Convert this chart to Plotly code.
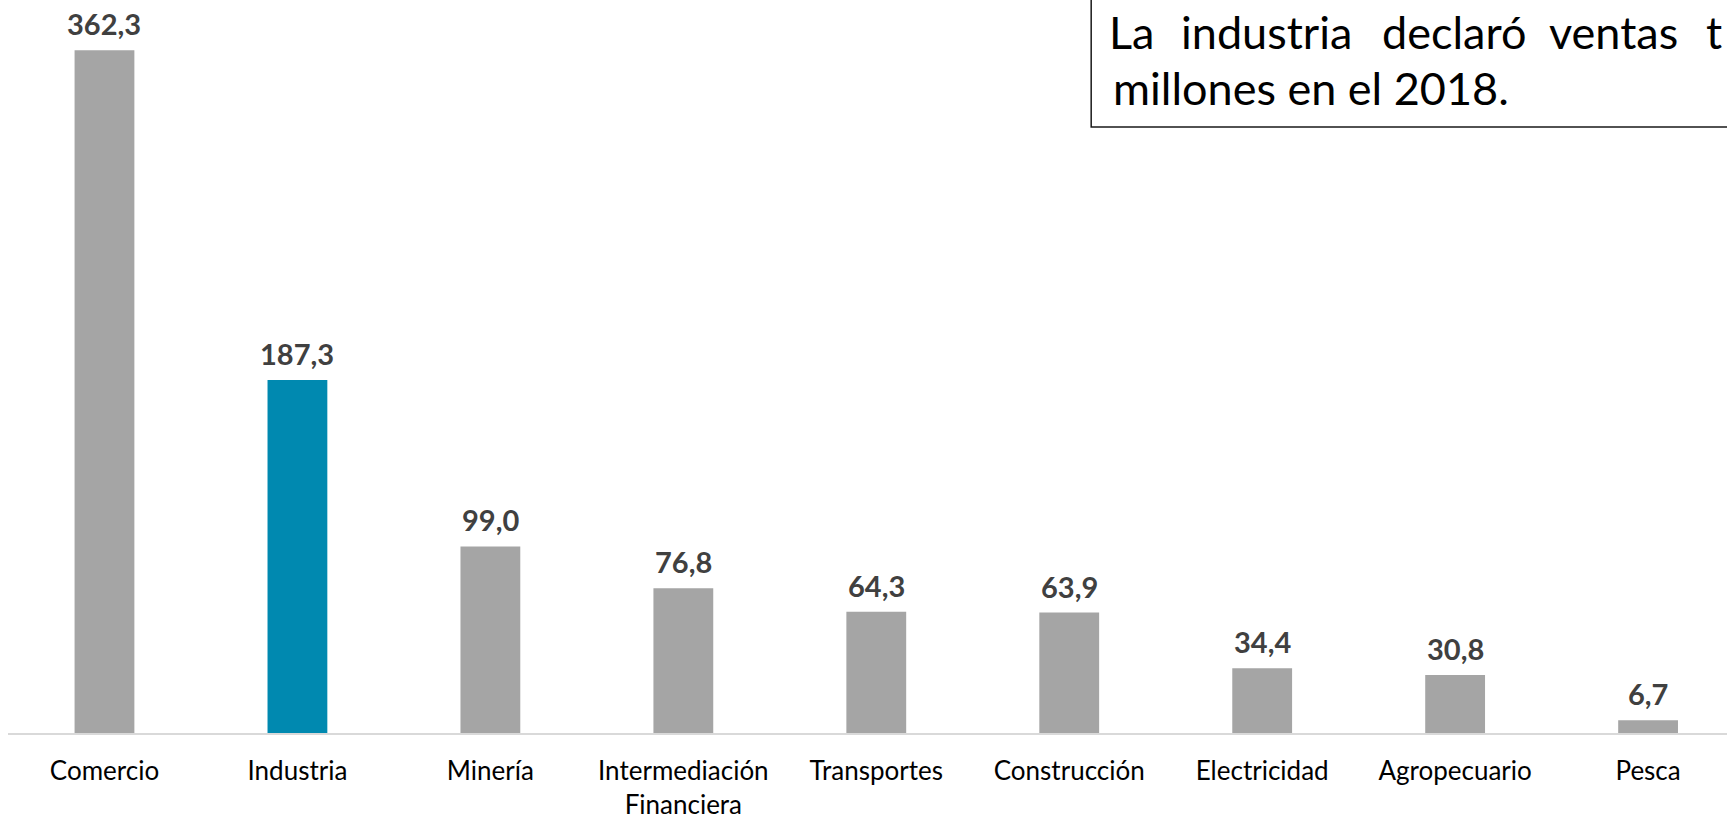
import plotly.graph_objects as go

categories = ["Comercio", "Industria", "Minería", "Intermediación<br>Financiera",
              "Transportes", "Construcción", "Electricidad", "Agropecuario", "Pesca"]
values = [362.3, 187.3, 99.0, 76.8, 64.3, 63.9, 34.4, 30.8, 6.7]
highlight = "Industria"

GRAY = "#a5a5a5"
BLUE = "#0089b0"
colors = [BLUE if c == highlight else GRAY for c in categories]

W, H = 1727, 821
ML, MR, MT, MB = 7.5, 0, 0, 88

def px(x):
    return (x - ML) / (W - ML - MR)

def py(y):
    return (H - MB - y) / (H - MB - MT)

fig = go.Figure()
fig.add_trace(go.Bar(
    x=list(range(len(categories))), y=values,
    marker=dict(color=colors, line=dict(width=0)),
    width=0.31, hoverinfo="skip",
))

annotations = []
for i, v in enumerate(values):
    annotations.append(dict(
        x=i, y=v, xref="x", yref="y", text=f"<b>{v:.1f}</b>".replace(".", ","),
        showarrow=False, yanchor="bottom", yshift=7,
        font=dict(family="Lato", size=29, color="#404040"),
    ))

# text box (justified first line, cut off at the right edge)
line1 = [("La", 1131), ("industria", 1266), ("declaró", 1454), ("ventas", 1613), ("t", 1714)]
for word, xpos in line1:
    annotations.append(dict(
        x=px(xpos), y=py(32), xref="paper", yref="paper", text=word,
        showarrow=False, xanchor="center", yanchor="middle",
        font=dict(family="Lato", size=45, color="#000000"),
    ))
annotations.append(dict(
    x=px(1111), y=py(88), xref="paper", yref="paper", text="millones en el 2018.",
    showarrow=False, xanchor="left", yanchor="middle",
    font=dict(family="Lato", size=45, color="#000000"),
))

fig.update_layout(
    width=W, height=H,
    margin=dict(l=ML, r=MR, t=MT, b=MB, pad=0),
    paper_bgcolor="white", plot_bgcolor="white",
    showlegend=False,
    annotations=annotations,
    shapes=[dict(type="rect", xref="paper", yref="paper",
                 x0=px(1091), x1=px(1760), y0=py(127), y1=py(-20),
                 line=dict(color="#1a1a1a", width=1.5), fillcolor="rgba(0,0,0,0)")],
    xaxis=dict(
        range=[-0.5, 8.409], tickmode="array",
        tickvals=list(range(len(categories))), ticktext=categories,
        showline=True, linecolor="#d9d9d9", linewidth=2,
        showgrid=False, zeroline=False, ticks="", ticklabelstandoff=14,
        tickfont=dict(family="Lato", size=26, color="#000000"),
        fixedrange=True,
    ),
    yaxis=dict(range=[0, 388.9], visible=False, showgrid=False, zeroline=False,
               fixedrange=True),
)

fig.write_html(
    "out.html",
    config={"displayModeBar": False},
    post_script="document.body.style.margin='0';document.body.style.overflow='hidden';",
)
